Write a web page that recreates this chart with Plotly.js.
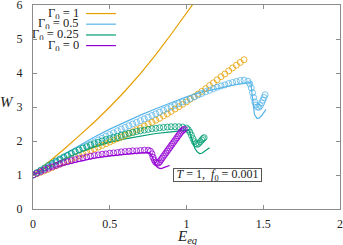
<!DOCTYPE html>
<html>
<head>
<meta charset="utf-8">
<script src="https://cdn.plot.ly/plotly-3.0.1.min.js"></script>
<style>
html,body{margin:0;padding:0;background:#fff;}
#chart{width:343px;height:245px;}
</style>
</head>
<body>
<div id="chart"></div>
<script>
// ---- data ----
const seriesNames = ["\u0393<sub>0</sub> = 1", "\u0393<sub>0</sub> = 0.5", "\u0393<sub>0</sub> = 0.25", "\u0393<sub>0</sub> = 0"];
const seriesColors = ["#e69f00", "#56b4e9", "#009e73", "#9400d3"];

// solid lines
const lineX_g1 = [0,0.1,0.2,0.3,0.4,0.5,0.6,0.7,0.8,0.9,1.0,1.06];
const lineY_g1 = [1,1.37,1.75,2.15,2.56,3.0,3.47,3.98,4.54,5.14,5.76,6.14];

const lineX_g05 = [0,0.05,0.1,0.2,0.3,0.4,0.5,0.6,0.7,0.8,0.9,1.0,1.1,1.2,1.3,1.4,1.42,1.425,1.432,1.443,1.46,1.475,1.49,1.505,1.518];
const lineY_g05 = [1,1.16,1.31,1.6,1.87,2.12,2.35,2.56,2.76,2.95,3.13,3.3,3.44,3.55,3.64,3.71,3.73,3.45,3.1,2.78,2.66,2.68,2.75,2.84,2.93];

const lineX_g025 = [0,0.05,0.1,0.2,0.3,0.4,0.5,0.6,0.7,0.8,0.9,0.98,1.015,1.025,1.04,1.055,1.07,1.085,1.1,1.12,1.15];
const lineY_g025 = [1,1.13,1.25,1.47,1.66,1.82,1.96,2.06,2.15,2.22,2.27,2.3,2.33,2.2,1.95,1.78,1.68,1.63,1.64,1.7,1.8];

const lineX_g0 = [0,0.05,0.1,0.2,0.3,0.4,0.5,0.6,0.7,0.76,0.775,0.79,0.805,0.82,0.835,0.86,0.89];
const lineY_g0 = [1,1.09,1.17,1.3,1.41,1.5,1.56,1.61,1.65,1.66,1.56,1.38,1.25,1.2,1.19,1.23,1.28];

// open-circle points
const ptX_g1 = [0,0.025,0.05,0.075,0.1,0.125,0.15,0.175,0.2,0.225,0.25,0.275,0.3,0.325,0.35,0.375,0.4,0.425,0.45,0.475,0.5,0.525,0.55,0.575,0.6,0.625,0.65,0.675,0.7,0.725,0.75,0.775,0.8,0.825,0.85,0.875,0.9,0.925,0.95,0.975,1.0,1.025,1.05,1.075,1.1,1.125,1.15,1.175,1.2,1.225,1.25,1.275,1.3,1.325,1.35,1.375];
const ptY_g1 = [1,1.04,1.08,1.125,1.17,1.22,1.27,1.32,1.37,1.42,1.47,1.52,1.57,1.62,1.67,1.72,1.77,1.82,1.87,1.92,1.97,2.02,2.07,2.12,2.17,2.22,2.27,2.33,2.38,2.44,2.5,2.55,2.61,2.67,2.74,2.8,2.87,2.94,3.01,3.08,3.15,3.23,3.3,3.38,3.46,3.54,3.63,3.71,3.8,3.89,3.97,4.06,4.15,4.23,4.31,4.39];

const ptX_g05 = [0,0.025,0.05,0.075,0.1,0.125,0.15,0.175,0.2,0.225,0.25,0.275,0.3,0.325,0.35,0.375,0.4,0.425,0.45,0.475,0.5,0.525,0.55,0.575,0.6,0.625,0.65,0.675,0.7,0.725,0.75,0.775,0.8,0.825,0.85,0.875,0.9,0.925,0.95,0.975,1.0,1.025,1.05,1.075,1.1,1.125,1.15,1.175,1.2,1.225,1.25,1.275,1.3,1.325,1.35,1.375,1.4,1.412,1.422,1.43,1.437,1.445,1.453,1.462,1.472,1.481,1.49,1.498,1.505,1.512];
const ptY_g05 = [1,1.06,1.13,1.19,1.25,1.31,1.38,1.44,1.5,1.56,1.62,1.68,1.74,1.8,1.86,1.91,1.97,2.03,2.08,2.14,2.19,2.24,2.3,2.35,2.4,2.45,2.5,2.55,2.6,2.65,2.7,2.75,2.8,2.85,2.9,2.95,3.0,3.05,3.1,3.15,3.2,3.25,3.3,3.35,3.4,3.45,3.49,3.54,3.58,3.62,3.65,3.69,3.72,3.75,3.78,3.79,3.76,3.68,3.56,3.42,3.28,3.15,3.06,3.0,2.99,3.04,3.12,3.2,3.28,3.36];

const ptX_g025 = [0,0.025,0.05,0.075,0.1,0.125,0.15,0.175,0.2,0.225,0.25,0.275,0.3,0.325,0.35,0.375,0.4,0.425,0.45,0.475,0.5,0.525,0.55,0.575,0.6,0.625,0.65,0.675,0.7,0.725,0.75,0.775,0.8,0.825,0.85,0.875,0.9,0.925,0.95,0.975,1.0,1.012,1.022,1.032,1.042,1.051,1.06,1.07,1.08,1.09,1.1,1.108,1.115];
const ptY_g025 = [1,1.07,1.14,1.21,1.28,1.34,1.41,1.47,1.53,1.58,1.64,1.69,1.74,1.79,1.83,1.88,1.92,1.96,2.0,2.04,2.07,2.11,2.14,2.17,2.2,2.23,2.25,2.28,2.3,2.32,2.34,2.36,2.37,2.39,2.4,2.41,2.42,2.42,2.42,2.41,2.38,2.33,2.26,2.17,2.07,1.98,1.92,1.9,1.93,1.98,2.03,2.07,2.1];

const ptX_g0 = [0,0.025,0.05,0.075,0.1,0.125,0.15,0.175,0.2,0.225,0.25,0.275,0.3,0.325,0.35,0.375,0.4,0.425,0.45,0.475,0.5,0.525,0.55,0.575,0.6,0.625,0.65,0.675,0.7,0.725,0.75,0.765,0.775,0.782,0.79,0.798,0.807,0.817,0.826,0.834,0.842,0.85,0.858,0.866,0.874,0.882,0.89,0.898,0.906,0.914,0.922,0.93,0.938,0.946,0.954,0.962,0.97,0.978,0.986];
const ptY_g0 = [1,1.05,1.1,1.15,1.2,1.24,1.28,1.32,1.36,1.39,1.42,1.45,1.48,1.5,1.53,1.55,1.57,1.59,1.61,1.62,1.64,1.65,1.66,1.68,1.69,1.7,1.71,1.71,1.72,1.73,1.73,1.7,1.62,1.52,1.44,1.38,1.35,1.35,1.39,1.45,1.5,1.55,1.6,1.65,1.7,1.75,1.8,1.85,1.9,1.95,2.0,2.05,2.1,2.15,2.2,2.25,2.29,2.32,2.35];

const xTicks = [0, 0.5, 1, 1.5, 2];
const xTickText = ["0", "0.5", "1", "1.5", "2"];
const yTicks = [0, 1, 2, 3, 4, 5, 6];
const yTickText = ["0", "1", "2", "3", "4", "5", "6"];
const boxLabel = "<i>T</i> = 1,  <i>f</i><sub>0</sub> = 0.001";

// ---- build traces ----
const lines = [[lineX_g1, lineY_g1], [lineX_g05, lineY_g05], [lineX_g025, lineY_g025], [lineX_g0, lineY_g0]];
const pts = [[ptX_g1, ptY_g1], [ptX_g05, ptY_g05], [ptX_g025, ptY_g025], [ptX_g0, ptY_g0]];
const traces = [];
lines.forEach((l, i) => traces.push({
  x: l[0], y: l[1], mode: "lines", type: "scatter", showlegend: false,
  line: {color: seriesColors[i], width: 1.2, shape: "linear"}, hoverinfo: "skip"
}));
pts.forEach((p, i) => traces.push({
  x: p[0], y: p[1], mode: "markers", type: "scatter", showlegend: false,
  marker: {symbol: "circle-open", size: 6, color: seriesColors[i], line: {width: 0.8, color: seriesColors[i]}},
  hoverinfo: "skip"
}));

const FONT = "Liberation Serif, Times New Roman, serif";
const axisCommon = {
  showgrid: false, zeroline: false, showline: true, mirror: "ticks",
  linecolor: "#8c8c8c", linewidth: 1, ticks: "inside", ticklen: 4, tickwidth: 1, tickcolor: "#8c8c8c",
  tickfont: {family: FONT, size: 12, color: "#222"}, fixedrange: true, ticklabeloverflow: "allow"
};

// custom gnuplot-style legend (text right, sample line to the right)
const legRowsY = [0.958, 0.906, 0.853, 0.801];
const annotations = [];
const shapes = [];
seriesNames.forEach((n, i) => {
  annotations.push({xref: "paper", yref: "paper", x: 0.152, y: legRowsY[i], xanchor: "right", yanchor: "middle",
    text: n, showarrow: false, font: {family: FONT, size: 12.5, color: "#222"}, height: 10, borderpad: 0});
  shapes.push({type: "line", xref: "paper", yref: "paper", x0: 0.173, x1: 0.27, y0: legRowsY[i], y1: legRowsY[i],
    line: {color: seriesColors[i], width: 1.2}});
});
annotations.push({xref: "x", yref: "y", x: 1.2, y: 1.0, xanchor: "center", yanchor: "middle",
  text: boxLabel, showarrow: false, font: {family: FONT, size: 12, color: "#222"},
  bgcolor: "#fff", bordercolor: "#555", borderwidth: 1, borderpad: 0, height: 12, width: 87});
annotations.push({xref: "paper", yref: "paper", x: -0.085, y: 0.525, xanchor: "center", yanchor: "middle",
  text: "<i>W</i>", showarrow: false, font: {family: FONT, size: 15, color: "#222"}});
annotations.push({xref: "paper", yref: "paper", x: 0.5, y: -0.085, xanchor: "center", yanchor: "top",
  text: "<i>E</i><sub><i>eq</i></sub>", showarrow: false, font: {family: FONT, size: 15, color: "#222"}});

const layout = {
  width: 343, height: 245,
  margin: {l: 33, r: 3, t: 5, b: 36},
  paper_bgcolor: "#fff", plot_bgcolor: "#fff",
  xaxis: Object.assign({}, axisCommon, {range: [0, 2], tickvals: xTicks, ticktext: xTickText, ticklabelstandoff: 4}),
  yaxis: Object.assign({}, axisCommon, {range: [0, 6], tickvals: yTicks, ticktext: yTickText, ticklabelstandoff: 7}),
  showlegend: false,
  annotations: annotations,
  shapes: shapes
};

Plotly.newPlot("chart", traces, layout, {displayModeBar: false, staticPlot: true});
</script>
</body>
</html>
